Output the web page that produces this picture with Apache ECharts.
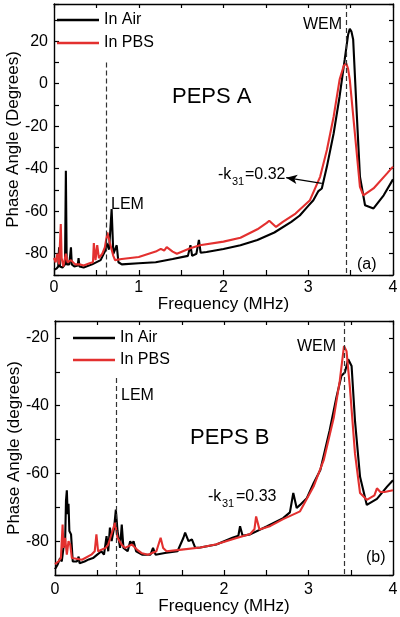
<!DOCTYPE html>
<html><head><meta charset="utf-8">
<script src="https://cdn.jsdelivr.net/npm/echarts@6/dist/echarts.min.js"></script>
<style>html,body{margin:0;padding:0;background:#fff}#c{width:400px;height:617px}</style>
</head><body><div id="c"></div>
<script>
// ---------- Panel (a) PEPS A ----------
const freqA_air = [0,0.03,0.05,0.06,0.07,0.10,0.13,0.14,0.15,0.18,0.20,0.21,0.24,0.28,0.29,0.30,0.35,0.45,0.55,0.60,0.62,0.65,0.68,0.70,0.74,0.76,0.80,1.0,1.2,1.4,1.58,1.61,1.63,1.68,1.71,1.73,1.8,2.0,2.2,2.4,2.6,2.8,2.9,3.0,3.06,3.12,3.16,3.22,3.30,3.37,3.43,3.47,3.49,3.51,3.53,3.57,3.61,3.67,3.77,3.89,4.0];
const phaseA_air = [-87.5,-87,-86,-77,-86,-86.5,-85,-41,-85,-85,-77,-85,-86,-85.5,-82,-86,-86.5,-85,-83,-79,-75,-78,-59,-80,-76,-84,-85,-84.5,-84,-82.5,-81,-76,-81,-80,-73.5,-79.5,-79.2,-77.8,-76,-73.5,-70,-65,-62,-57.5,-54.8,-50.5,-49.3,-39,-23.3,-6,11.3,23,25.8,24.5,20.8,-12.3,-43.8,-57.2,-58.7,-52.5,-45];
const freqA_pbs = [0,0.02,0.04,0.06,0.08,0.09,0.11,0.14,0.16,0.20,0.25,0.30,0.35,0.42,0.46,0.47,0.49,0.51,0.53,0.57,0.60,0.63,0.66,0.70,0.72,0.80,1.0,1.2,1.26,1.30,1.33,1.40,1.45,1.60,1.72,2.0,2.2,2.4,2.51,2.54,2.62,2.70,2.85,3.02,3.14,3.22,3.30,3.37,3.42,3.45,3.47,3.49,3.55,3.61,3.65,3.77,3.93,4.0];
const phaseA_pbs = [-82,-84,-80,-85,-66,-82,-86,-80,-84,-83,-85,-85,-85.5,-84.5,-84,-75,-83,-76,-82,-80,-77,-70,-75,-81,-83,-82.5,-81.5,-79,-77.7,-78.5,-76.9,-79,-80,-77.5,-76,-74.3,-72.5,-68.5,-65.5,-64.5,-67.4,-65,-61.1,-54.8,-43.8,-31.2,-15.4,1.9,8.5,9.5,7,1.9,-23.3,-48.5,-52.5,-49.3,-42.2,-39];

// ---------- Panel (b) PEPS B ----------
const freqB_air = [0,0.03,0.06,0.08,0.10,0.12,0.13,0.14,0.15,0.16,0.17,0.19,0.21,0.26,0.28,0.29,0.35,0.40,0.45,0.50,0.55,0.58,0.61,0.63,0.65,0.67,0.70,0.72,0.74,0.77,0.79,0.81,0.86,0.89,0.91,0.93,0.96,1.03,1.13,1.16,1.19,1.3,1.45,1.52,1.54,1.58,1.62,1.66,1.72,1.91,2.10,2.17,2.19,2.22,2.31,2.51,2.70,2.78,2.82,2.86,2.90,2.98,3.06,3.14,3.25,3.33,3.39,3.43,3.47,3.51,3.55,3.61,3.69,3.81,3.93,4.0];
const phaseB_air = [-88.3,-87,-85,-86,-82,-80,-68,-65,-72,-69,-77,-78,-86,-86,-84.6,-86.5,-86,-85.4,-85,-84,-83,-84,-78.5,-83,-76,-80,-76,-70.7,-77,-82,-75.1,-82,-83,-80,-81,-80,-83,-84,-84,-82,-84,-83.5,-83,-79,-77.5,-80,-79.5,-82,-81.9,-81,-79,-78.4,-75.6,-78.4,-78,-75.6,-73.2,-71.5,-65.8,-70.2,-69.3,-67.3,-62.9,-59,-47.3,-37.6,-31.2,-30.2,-26.3,-28.3,-44.4,-61,-69.3,-67.5,-63.9,-62];
const freqB_pbs = [0,0.04,0.07,0.08,0.09,0.10,0.12,0.14,0.16,0.18,0.20,0.32,0.43,0.47,0.49,0.51,0.53,0.60,0.63,0.68,0.71,0.74,0.79,0.83,0.91,0.97,1.03,1.10,1.20,1.25,1.28,1.32,1.50,1.72,1.90,2.12,2.31,2.36,2.38,2.42,2.55,2.70,2.90,3.06,3.18,3.30,3.37,3.42,3.45,3.49,3.55,3.61,3.69,3.78,3.81,3.85,3.90,4.0];
const phaseB_pbs = [-86.8,-86,-85,-80,-75.1,-82,-79,-84,-80,-81,-85,-85.5,-84,-83,-78,-83,-83.5,-82,-81,-77,-74.6,-79,-81.1,-82,-81,-82.5,-83.6,-84,-83,-79,-82,-83,-82.5,-81.9,-81,-79.3,-77.9,-76.5,-72.7,-76.6,-75.5,-73.5,-71.2,-63.9,-56.1,-43.4,-32.7,-22.4,-23.9,-34.6,-54.1,-65.8,-67.8,-66.5,-64.4,-65.5,-65.5,-65];

// ---------- Axes / ticks ----------
const xLabels = [0,1,2,3,4];
const yLabelsA = [-80,-60,-40,-20,0,20];
const yLabelsB = [-80,-60,-40,-20];
const rangeA = [-90, 37.5];
const rangeB = [-90, -15];

// ---------- Reference lines / annotations (data coords) ----------
const dashA = [0.62, 3.45];
const dashTopA = [10, 37.5];
const dashB = [0.72, 3.42];
const dashTopB = [-31.8, -15];
const arrowA = [[2.74, -44.2], [3.16, -46.9]];

const FONT = '"Liberation Sans", Arial, Helvetica, sans-serif';
const BLACK = '#000';
const RED = '#e3302f';
const zip = (a, b) => a.map((v, i) => [v, b[i]]);

const chart = echarts.init(document.getElementById('c'), null, {renderer: 'canvas'});

function xAxisPair(gi) {
  return [
    {type: 'value', gridIndex: gi, min: 0, max: 4, interval: 0.5, position: 'bottom',
     name: 'Frequency (MHz)', nameLocation: 'middle', nameGap: gi === 0 ? 21 : 23, nameMoveOverlap: false,
     nameTextStyle: {fontSize: 17, fontFamily: FONT, color: '#000'},
     axisLine: {show: true, onZero: false, lineStyle: {color: '#000', width: 1.4}},
     axisTick: {show: true, inside: true, length: 5, lineStyle: {color: '#000', width: 1.2}},
     axisLabel: {margin: gi === 0 ? 5 : 7, fontSize: 16, fontFamily: FONT, color: '#000',
       formatter: v => xLabels.includes(v) ? String(v) : ''},
     splitLine: {show: false}},
    {type: 'value', gridIndex: gi, min: 0, max: 4, interval: 0.5, position: 'top',
     axisLine: {show: true, onZero: false, lineStyle: {color: '#000', width: 1.4}},
     axisTick: {show: true, inside: true, length: 4, lineStyle: {color: '#000', width: 1.2}},
     axisLabel: {show: false}, splitLine: {show: false}}
  ];
}
function yAxisPair(gi, range, labels, name) {
  return [
    {type: 'value', gridIndex: gi, min: range[0], max: range[1], interval: 10, position: 'left',
     name: name, nameLocation: 'middle', nameGap: 32, nameMoveOverlap: false,
     nameTextStyle: {fontSize: 17, fontFamily: FONT, color: '#000'},
     axisLine: {show: true, onZero: false, lineStyle: {color: '#000', width: 1.4}},
     axisTick: {show: true, inside: true, length: 5, lineStyle: {color: '#000', width: 1.2}},
     axisLabel: {margin: 6, fontSize: 16, fontFamily: FONT, color: '#000',
       formatter: v => labels.includes(v) ? String(v) : ''},
     splitLine: {show: false}},
    {type: 'value', gridIndex: gi, min: range[0], max: range[1], interval: 10, position: 'right',
     axisLine: {show: true, onZero: false, lineStyle: {color: '#000', width: 1.4}},
     axisTick: {show: true, inside: true, length: 4, lineStyle: {color: '#000', width: 1.2}},
     axisLabel: {show: false}, splitLine: {show: false}}
  ];
}

const dashStyle = {color: '#333', width: 1.2, type: [5, 3]};
function dashLines(xs, tops, bottom) {
  return xs.map((x, i) => [{coord: [x, tops[i]]}, {coord: [x, bottom]}]);
}
function legendAt(left, top, lh) {
  return {
    data: [{name: 'In Air', icon: 'rect', itemStyle: {color: BLACK}},
           {name: 'In PBS', icon: 'rect', itemStyle: {color: RED}}],
    orient: 'vertical', left: left, top: top, itemWidth: 42, itemHeight: 2.6, itemGap: 0,
    padding: 0, selectedMode: false,
    textStyle: {fontSize: 16, fontFamily: FONT, color: '#000', lineHeight: lh, padding: [0, 0, 0, 0]}
  };
}

const option = {
  animation: false,
  backgroundColor: '#fff',
  grid: [
    {left: 54, top: 4, width: 339, height: 271, containLabel: false, outerBoundsMode: 'none'},
    {left: 55, top: 321, width: 338, height: 254, containLabel: false, outerBoundsMode: 'none'}
  ],
  xAxis: [...xAxisPair(0), ...xAxisPair(1)],
  yAxis: [...yAxisPair(0, rangeA, yLabelsA, 'Phase Angle (Degrees)'),
          ...yAxisPair(1, rangeB, yLabelsB, 'Phase Angle (degrees)')],
  legend: [legendAt(57, 8.5, 23), legendAt(73, 327, 22)],
  series: [
    {type: 'line', name: 'In Air', xAxisIndex: 0, yAxisIndex: 0, data: zip(freqA_air, phaseA_air),
     symbol: 'none', showSymbol: false, lineStyle: {color: BLACK, width: 2.1}, itemStyle: {color: BLACK},
     markLine: {silent: true, symbol: ['none', 'none'], label: {show: false}, lineStyle: dashStyle,
       data: [...dashLines(dashA, dashTopA, rangeA[0]),
              [{coord: arrowA[0], symbol: 'arrow', symbolSize: [7, 11], lineStyle: {color: '#000', width: 1.2, type: 'solid'}},
               {coord: arrowA[1], symbol: 'none', lineStyle: {color: '#000', width: 1.2, type: 'solid'}}]]}},
    {type: 'line', name: 'In PBS', xAxisIndex: 0, yAxisIndex: 0, data: zip(freqA_pbs, phaseA_pbs),
     symbol: 'none', showSymbol: false, lineStyle: {color: RED, width: 2.1}, itemStyle: {color: RED}},
    {type: 'line', name: 'In Air', xAxisIndex: 2, yAxisIndex: 2, data: zip(freqB_air, phaseB_air),
     symbol: 'none', showSymbol: false, lineStyle: {color: BLACK, width: 2.1}, itemStyle: {color: BLACK},
     markLine: {silent: true, symbol: ['none', 'none'], label: {show: false}, lineStyle: dashStyle,
       data: dashLines(dashB, dashTopB, rangeB[0])}},
    {type: 'line', name: 'In PBS', xAxisIndex: 2, yAxisIndex: 2, data: zip(freqB_pbs, phaseB_pbs),
     symbol: 'none', showSymbol: false, lineStyle: {color: RED, width: 2.1}, itemStyle: {color: RED}}
  ],
  graphic: [
    {type: 'text', x: 172, y: 97, style: {text: 'PEPS A', font: '22px ' + FONT, fill: '#000', verticalAlign: 'middle'}},
    {type: 'text', x: 303, y: 25, style: {text: 'WEM', font: '16px ' + FONT, fill: '#000', verticalAlign: 'middle'}},
    {type: 'text', x: 111, y: 205, style: {text: 'LEM', font: '16px ' + FONT, fill: '#000', verticalAlign: 'middle'}},
    {type: 'text', x: 218, y: 175, style: {text: '-k', font: '16px ' + FONT, fill: '#000', verticalAlign: 'middle'}},
    {type: 'text', x: 232, y: 182, style: {text: '31', font: '11px ' + FONT, fill: '#000', verticalAlign: 'middle'}},
    {type: 'text', x: 245, y: 175, style: {text: '=0.32', font: '16px ' + FONT, fill: '#000', verticalAlign: 'middle'}},
    {type: 'text', x: 357, y: 265, style: {text: '(a)', font: '16px ' + FONT, fill: '#000', verticalAlign: 'middle'}},

    {type: 'text', x: 190, y: 438, style: {text: 'PEPS B', font: '22px ' + FONT, fill: '#000', verticalAlign: 'middle'}},
    {type: 'text', x: 297, y: 347, style: {text: 'WEM', font: '16px ' + FONT, fill: '#000', verticalAlign: 'middle'}},
    {type: 'text', x: 121, y: 396, style: {text: 'LEM', font: '16px ' + FONT, fill: '#000', verticalAlign: 'middle'}},
    {type: 'text', x: 208, y: 497, style: {text: '-k', font: '16px ' + FONT, fill: '#000', verticalAlign: 'middle'}},
    {type: 'text', x: 222, y: 504, style: {text: '31', font: '11px ' + FONT, fill: '#000', verticalAlign: 'middle'}},
    {type: 'text', x: 236, y: 497, style: {text: '=0.33', font: '16px ' + FONT, fill: '#000', verticalAlign: 'middle'}},
    {type: 'text', x: 366, y: 558, style: {text: '(b)', font: '16px ' + FONT, fill: '#000', verticalAlign: 'middle'}}
  ]
};
chart.setOption(option);
</script>
</body></html>
